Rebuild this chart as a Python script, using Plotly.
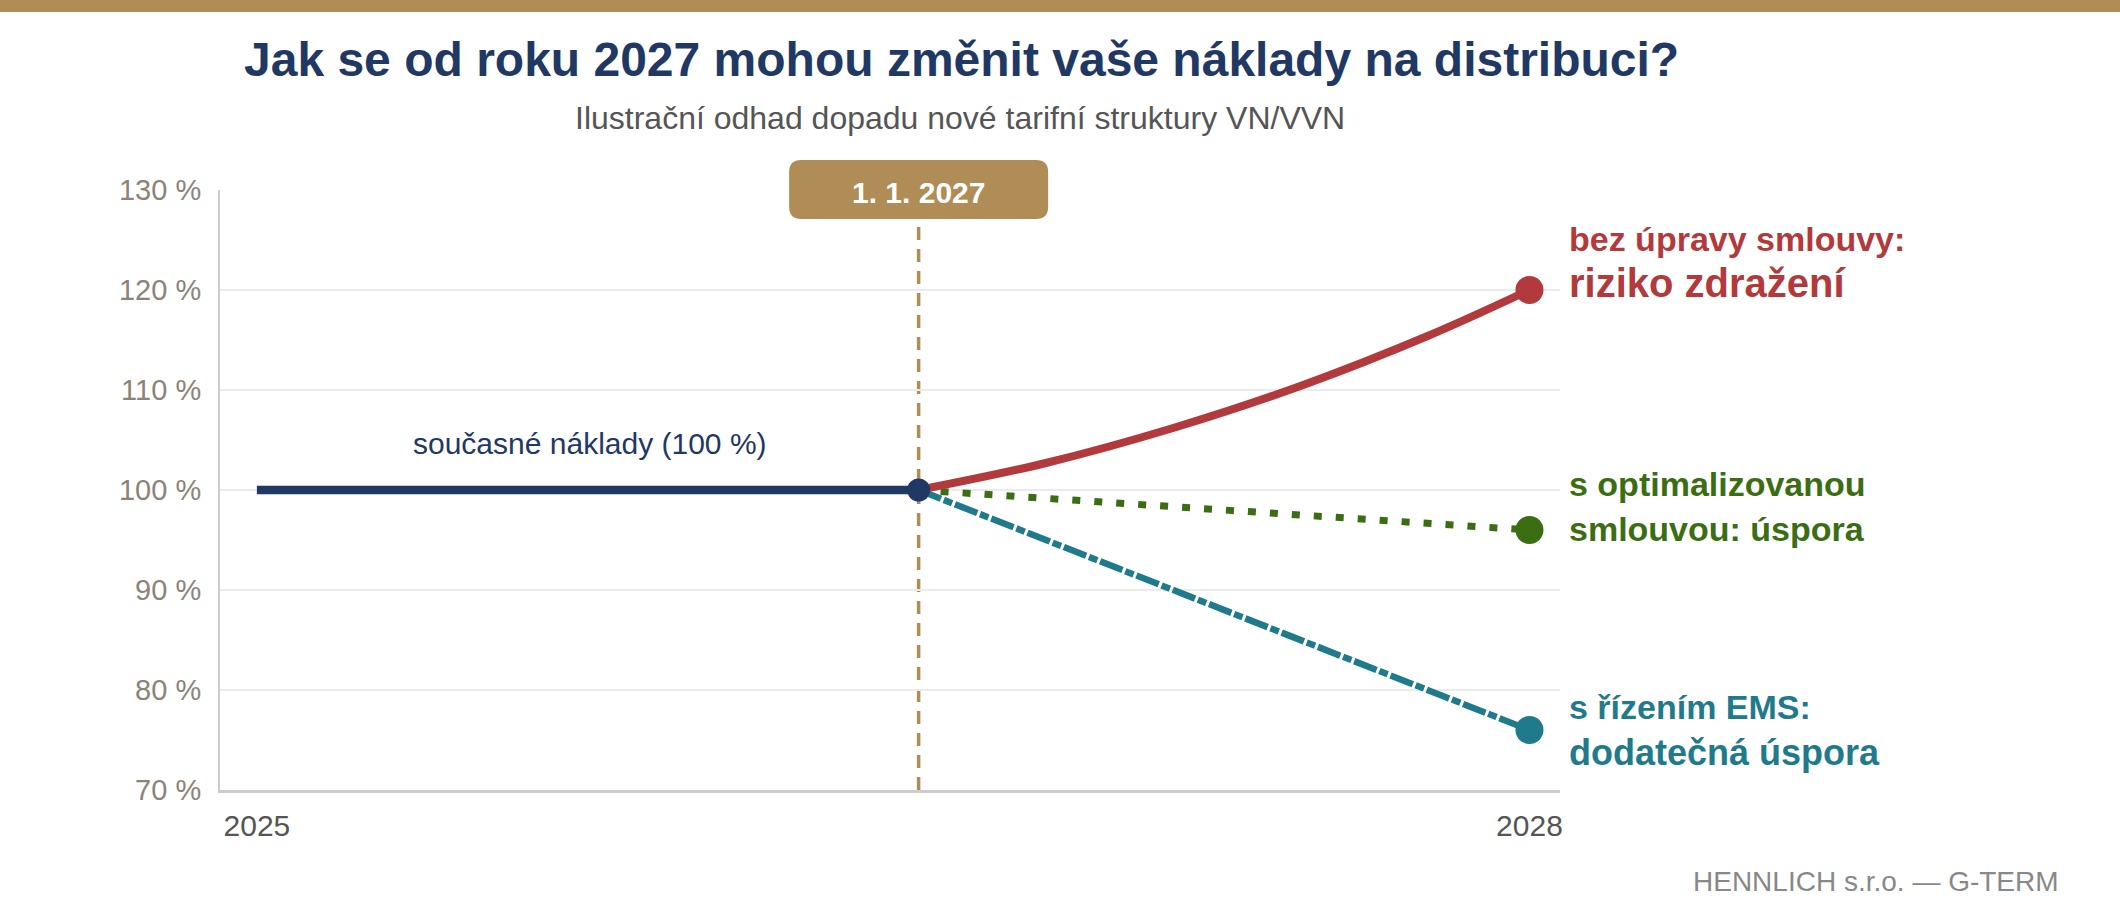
import plotly.graph_objects as go

# timeline positions (0 = 2025, 100 = 2028), break = 1. 1. 2027
x_current = [0, 52]
y_current = [100, 100]

x_future = [52, 62, 72, 82, 92, 100]
y_no_change = [100, 102.7, 106.2, 110.4, 115.4, 120]   # bez úpravy smlouvy
y_optimized = [100, 99.2, 98.3, 97.5, 96.7, 96]        # s optimalizovanou smlouvou
y_ems = [100, 95, 90, 85, 80, 76]                      # s řízením EMS

x_tick_vals = [0, 100]
x_tick_text = ["2025", "2028"]
x_break = 52
break_label = "1. 1. 2027"

NAVY = "#1f3864"
RED = "#b23a3c"
GREEN = "#3b6e12"
TEAL = "#1f7a8c"
GOLD = "#b08d57"
FONT = "Liberation Sans, Arial, sans-serif"

X_RANGE = [-2.9, 102.4]
PLOT_W, PLOT_H, M_L, M_T = 1340, 600, 220, 190

fig = go.Figure()

fig.add_trace(go.Scatter(x=x_future, y=y_ems, mode="lines",
                         line=dict(color=TEAL, width=6.5, dash="24px,3px,9px,3px")))
fig.add_trace(go.Scatter(x=x_future, y=y_optimized, mode="lines",
                         line=dict(color=GREEN, width=7, dash="8px,14px")))
fig.add_trace(go.Scatter(x=x_future, y=y_no_change, mode="lines",
                         line=dict(color=RED, width=8, shape="spline", smoothing=1.0)))
# end markers
fig.add_trace(go.Scatter(x=[x_future[-1]] * 3,
                         y=[y_no_change[-1], y_optimized[-1], y_ems[-1]],
                         mode="markers",
                         marker=dict(size=28, color=[RED, GREEN, TEAL])))
fig.add_trace(go.Scatter(x=x_current, y=y_current, mode="lines",
                         line=dict(color=NAVY, width=8.5)))
fig.add_trace(go.Scatter(x=[x_current[-1]], y=[y_current[-1]], mode="markers",
                         marker=dict(size=23, color=NAVY)))

# vertical marker line + label box
fig.add_shape(type="line", x0=x_break, x1=x_break, y0=70, y1=127, xref="x", yref="y",
              line=dict(color=GOLD, width=3.5, dash="13px,9px"), layer="below")
break_frac = (x_break - X_RANGE[0]) / (X_RANGE[1] - X_RANGE[0])
fig.add_shape(type="path", xref="paper", yref="paper", xsizemode="pixel", ysizemode="pixel",
              xanchor=break_frac, yanchor=1,
              path="M -117.5,30 L 117.5,30 Q 129.5,30 129.5,18 L 129.5,-17 Q 129.5,-29 117.5,-29 "
                   "L -117.5,-29 Q -129.5,-29 -129.5,-17 L -129.5,18 Q -129.5,30 -117.5,30 Z",
              fillcolor=GOLD, line=dict(width=0), layer="above")
fig.add_annotation(xref="paper", yref="paper", x=break_frac, y=1, xanchor="center",
                   yanchor="middle", text="<b>" + break_label + "</b>", showarrow=False,
                   yshift=-2, font=dict(family=FONT, size=30, color="white"))

# top band
fig.add_shape(type="rect", xref="paper", yref="paper", x0=-M_L / PLOT_W, x1=1900 / PLOT_W,
              y0=1 + 178 / PLOT_H, y1=1 + M_T / PLOT_H, fillcolor=GOLD, line=dict(width=0))

# titles
fig.add_annotation(xref="paper", yref="paper", x=(961 - M_L) / PLOT_W, y=1 + 130 / PLOT_H,
                   xanchor="center", yanchor="middle",
                   text="<b>Jak se od roku 2027 mohou změnit vaše náklady na distribuci?</b>",
                   showarrow=False, font=dict(family=FONT, size=48, color=NAVY))
fig.add_annotation(xref="paper", yref="paper", x=(960 - M_L) / PLOT_W, y=1 + 72 / PLOT_H,
                   xanchor="center", yanchor="middle",
                   text="Ilustrační odhad dopadu nové tarifní struktury VN/VVN",
                   showarrow=False, font=dict(family=FONT, size=32, color="#555555"))

fig.add_annotation(x=26.2, y=104.7, xanchor="center", yanchor="middle",
                   text="současné náklady (100 %)", showarrow=False,
                   font=dict(family=FONT, size=30, color=NAVY))

# right-hand labels
labels = [
    ("<b>bez úpravy smlouvy:</b>", 125.1, 34, RED),
    ("<b>riziko zdražení</b>", 120.7, 40, RED),
    ("<b>s optimalizovanou</b>", 100.6, 34, GREEN),
    ("<b>smlouvou: úspora</b>", 96.1, 34, GREEN),
    ("<b>s řízením EMS:</b>", 78.3, 34, TEAL),
    ("<b>dodatečná úspora</b>", 73.8, 36, TEAL),
]
for txt, yv, sz, col in labels:
    fig.add_annotation(xref="paper", yref="y", x=1, y=yv, xshift=7, xanchor="left",
                       yanchor="middle", text=txt, showarrow=False,
                       font=dict(family=FONT, size=sz, color=col))

fig.add_annotation(xref="paper", yref="paper", x=(2061 - M_L) / PLOT_W, y=-91 / PLOT_H,
                   xanchor="right", yanchor="middle", text="HENNLICH s.r.o. — G-TERM",
                   showarrow=False, font=dict(family=FONT, size=28, color="#888888"))

fig.update_layout(
    width=2120, height=920,
    margin=dict(l=M_L, r=2120 - M_L - PLOT_W, t=M_T, b=920 - M_T - PLOT_H),
    plot_bgcolor="white", paper_bgcolor="white",
    showlegend=False, hovermode=False,
)
fig.update_xaxes(range=X_RANGE, tickvals=x_tick_vals, ticktext=x_tick_text,
                 showgrid=False, zeroline=False, showline=True, linecolor="#cccccc",
                 linewidth=3, ticks="", ticklabelstandoff=7,
                 tickfont=dict(family=FONT, size=30, color="#555555"))
fig.update_yaxes(range=[70, 130], dtick=10, ticksuffix=" %", showgrid=True,
                 gridcolor="#ebebeb", gridwidth=2, zeroline=False, showline=True,
                 linecolor="#cccccc", linewidth=2, ticks="", ticklabelstandoff=11,
                 tickfont=dict(family=FONT, size=29, color="#8c8378"))

fig.write_html("out.html", config={"displayModeBar": False},
               post_script="document.body.style.margin='0';")
